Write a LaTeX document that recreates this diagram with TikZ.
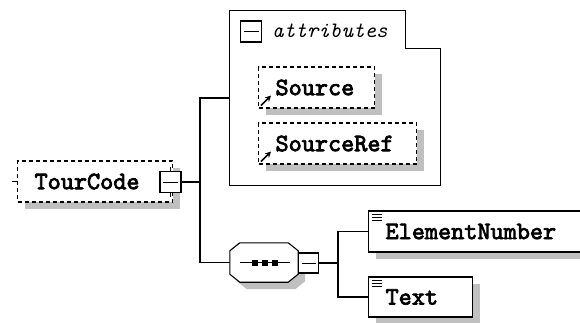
\documentclass[tikz,border=0pt]{standalone}
\usepackage{fontspec}
\usepackage{tikz}
\usetikzlibrary{arrows.meta,calc,positioning,shadows}
\newfontfamily\darktt[FakeBold=3]{lmmono10-regular.otf}
\definecolor{shadowgray}{RGB}{192,192,192}
\newcommand{\elemfont}{\darktt\fontsize{25}{25}\selectfont}
\newcommand{\groupfont}{\ttfamily\itshape\fontsize{22}{22}\selectfont}
\tikzset{
  shade/.style={drop shadow={shadow xshift=7pt, shadow yshift=-7pt, fill=shadowgray, opacity=1}},
  elem/.style={draw, fill=white, line width=1.1pt, minimum height=41pt, anchor=west,
    inner xsep=17pt, inner ysep=0pt, align=left, font=\elemfont, shade},
  optelem/.style={elem, dash pattern=on 4pt off 3pt},
  minusbox/.style={draw, fill=white, line width=1.1pt, minimum size=20pt, inner sep=0pt,
    path picture={\draw[line width=1pt] ([xshift=3pt]path picture bounding box.west) -- ([xshift=-3pt]path picture bounding box.east);}},
  conn/.style={line width=1.1pt},
  every picture/.style={line cap=butt, line join=miter}
}

\begin{document}
\begin{tikzpicture}[x=1pt,y=-1pt]
  \useasboundingbox (0,0) rectangle (580,322);
  \clip (0,0) rectangle (580,322);

  % TourCode
  \node[optelem, text width=121pt] (tc) at (17,181.5) {TourCode};
  \node[minusbox, minimum size=21pt] (tcm) at (170.5,182) {};
  \draw[conn] (tcm.north) -- ++(0,-4);
  \draw[conn] (tcm.south) -- ++(0,4);
  \coordinate (tcin) at (12,181.5);
  \draw[conn] (tcin) -- (tc.west);

  % attributes
  \node[minimum width=210pt, minimum height=174pt, inner sep=0pt] (attr) at (335,98) {};
  \draw[conn, fill=white] (attr.north west) -- ($(attr.north west)+(176,0)$) -- ($(attr.north west)+(176,38)$)
    -- ($(attr.north east)+(0,38)$) -- (attr.south east) -- (attr.south west) -- cycle;
  \node[minusbox, minimum size=21pt] (attrm) at (251,31.5) {};
  \node[anchor=west, font=\groupfont, inner sep=0pt] (attrl) at (272,31) {attributes};
  \node[optelem, text width=82pt] (src) at (258,87.5) {Source};
  \node[optelem, text width=124pt] (sref) at (258,143.5) {SourceRef};
  \foreach \n in {src,sref}
    \draw[line width=1.6pt, -{Stealth[length=6pt,width=6pt]}] ([shift={(3,-3)}]\n.south west) -- ++(10,-10);

  % sequence
  \node[minimum width=68pt, minimum height=39pt, inner sep=0pt] (seq) at (264,262.5) {};
  \draw[conn, fill=white, shade] ($(seq.north west)+(10,0)$) -- ($(seq.north east)+(-10,0)$)
    -- ($(seq.north east)+(0,8)$) -- ($(seq.south east)+(0,-8)$) -- ($(seq.south east)+(-10,0)$)
    -- ($(seq.south west)+(10,0)$) -- ($(seq.south west)+(0,-8)$) -- ($(seq.north west)+(0,8)$) -- cycle;
  \draw[line width=1pt] ([xshift=10pt]seq.west) -- ([xshift=-8pt]seq.east);
  \foreach \dx in {-9,1,11}
    \fill ([xshift=\dx pt]seq.center) ++(-3,-3) rectangle ++(6,6);
  \node[minusbox] (seqm) at (308.5,263) {};

  % children
  \node[elem, text width=196pt] (en) at (368,231.5) {ElementNumber};
  \node[elem, text width=70pt, minimum height=40pt] (txt) at (368,297) {Text};
  \foreach \n in {en,txt}
    \foreach \k in {4,7,10}
      \draw[line width=0.8pt] ([shift={(4,\k)}]\n.north west) -- ++(10,0);

  % connectors
  \coordinate (j1) at (200,182);
  \coordinate (j2) at (338,263);
  \draw[conn] (tcm.east) -- (j1);
  \draw[conn] (attr.west) -| (j1) |- (seq.west);
  \draw[conn] (seqm.east) -- (j2);
  \draw[conn] (en.west) -| (j2) |- (txt.west);
\end{tikzpicture}
\end{document}
